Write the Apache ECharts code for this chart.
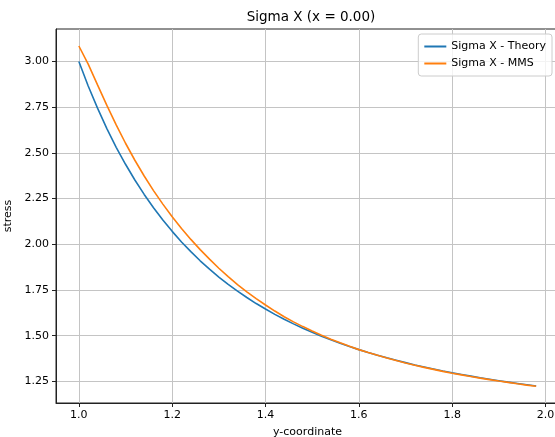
<!DOCTYPE html>
<html>
<head>
<meta charset="utf-8">
<script src="https://cdn.jsdelivr.net/npm/echarts@6/dist/echarts.min.js"></script>
<style>
html,body{margin:0;padding:0;background:#fff;}
#c{width:555px;height:437px;}
</style>
</head>
<body>
<div id="c"></div>
<script>
const xValues = [1.00,1.02,1.04,1.06,1.08,1.10,1.12,1.14,1.16,1.18,1.20,1.22,1.24,1.26,1.28,1.30,1.32,1.34,1.36,1.38,1.40,1.42,1.44,1.46,1.48,1.50,1.52,1.54,1.56,1.58,1.60,1.62,1.64,1.66,1.68,1.70,1.72,1.74,1.76,1.78,1.80,1.82,1.84,1.86,1.88,1.90,1.92,1.94,1.96,1.98];
const theory = [3.000,2.866,2.745,2.633,2.531,2.438,2.352,2.273,2.200,2.133,2.071,2.013,1.960,1.910,1.864,1.821,1.781,1.744,1.709,1.676,1.646,1.617,1.590,1.565,1.541,1.519,1.497,1.478,1.459,1.441,1.424,1.408,1.393,1.379,1.366,1.353,1.340,1.329,1.318,1.307,1.297,1.288,1.279,1.270,1.262,1.254,1.246,1.239,1.232,1.225];
const mms = [3.085,2.986,2.872,2.760,2.653,2.553,2.460,2.374,2.294,2.220,2.151,2.087,2.027,1.971,1.919,1.869,1.823,1.780,1.740,1.703,1.668,1.635,1.604,1.576,1.550,1.526,1.503,1.481,1.461,1.442,1.424,1.408,1.393,1.378,1.364,1.351,1.339,1.327,1.316,1.305,1.295,1.286,1.277,1.268,1.260,1.252,1.245,1.237,1.230,1.224];
const xTicks = [1.0,1.2,1.4,1.6,1.8,2.0];
const yTicks = [1.25,1.50,1.75,2.00,2.25,2.50,2.75,3.00];
const seriesNames = ['Sigma X - Theory','Sigma X - MMS'];
const titleText = 'Sigma X (x = 0.00)';
const xName = 'y-coordinate';
const yName = 'stress';

const font = 'DejaVu Sans';
const chart = echarts.init(document.getElementById('c'), null, {renderer:'canvas'});
chart.setOption({
  animation:false,
  backgroundColor:'#fff',
  title:{text:titleText,left:306,top:5,textAlign:'center',textStyle:{fontFamily:font,fontSize:13.5,fontWeight:'normal',color:'#000'}},
  legend:{
    data:seriesNames, orient:'vertical', right:3, top:34,
    icon:'rect', itemWidth:22, itemHeight:2, itemGap:6,
    backgroundColor:'rgba(255,255,255,0.8)', borderColor:'#cccccc', borderWidth:1, borderRadius:3,
    padding:[7,6,7,6],
    textStyle:{fontFamily:font,fontSize:11,color:'#000'}
  },
  grid:{left:56,top:29,width:503,height:374,containLabel:false,outerBoundsMode:'none',
        show:true,borderColor:'#222',borderWidth:1,backgroundColor:'transparent'},
  xAxis:{
    type:'value', min:0.951, max:2.029,
    name:xName, nameLocation:'middle', nameGap:24,
    nameTextStyle:{fontFamily:font,fontSize:11,color:'#000'},
    axisLine:{show:true,onZero:false,lineStyle:{color:'#222',width:1}},
    axisTick:{show:true,length:4,lineStyle:{color:'#222'},customValues:xTicks},
    axisLabel:{fontFamily:font,fontSize:11,color:'#000',margin:7,customValues:xTicks,formatter:v=>v.toFixed(1)},
    splitLine:{show:true,lineStyle:{color:'#c4c4c4',width:1}}
  },
  yAxis:{
    type:'value', min:1.132, max:3.178,
    name:yName, nameLocation:'middle', nameGap:30, nameRotate:90,
    nameTextStyle:{fontFamily:font,fontSize:11,color:'#000'},
    axisLine:{show:true,onZero:false,lineStyle:{color:'#222',width:1}},
    axisTick:{show:true,length:4,lineStyle:{color:'#222'},customValues:yTicks},
    axisLabel:{fontFamily:font,fontSize:11,color:'#000',margin:7,customValues:yTicks,formatter:v=>v.toFixed(2)},
    splitLine:{show:true,lineStyle:{color:'#c4c4c4',width:1}}
  },
  series:[
    {name:seriesNames[0],type:'line',data:xValues.map((x,i)=>[x,theory[i]]),showSymbol:false,symbol:'none',smooth:false,
     lineStyle:{color:'#1f77b4',width:1.6},itemStyle:{color:'#1f77b4'},z:2},
    {name:seriesNames[1],type:'line',data:xValues.map((x,i)=>[x,mms[i]]),showSymbol:false,symbol:'none',smooth:false,
     lineStyle:{color:'#ff7f0e',width:1.6},itemStyle:{color:'#ff7f0e'},z:3}
  ]
});
</script>
</body>
</html>
